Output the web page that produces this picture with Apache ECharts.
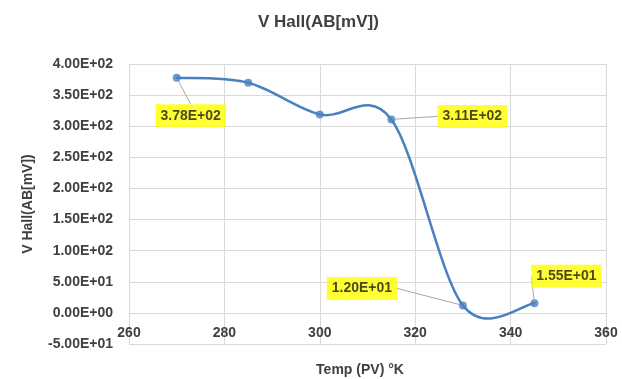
<!DOCTYPE html>
<html>
<head>
<meta charset="utf-8">
<script src="https://cdn.jsdelivr.net/npm/echarts@6/dist/echarts.min.js"></script>
<style>
html,body{margin:0;padding:0;background:#fff;}
#chart{width:622px;height:379px;}
</style>
</head>
<body>
<div id="chart"></div>
<script>
// Hall voltage across AB versus temperature
const temps = [270, 285, 300, 315, 330, 345];
const vHall = [378, 370, 319, 311, 12, 15.5];
// points whose value is called out in a box
const labeledIdx = [0, 3, 4, 5];
// shift of each call-out box away from its point
const labelShift = {0: [14, 38], 3: [81, -3], 4: [-101, -17], 5: [32, -27]};

function sci(v) {
  if (v === 0) return '0.00E+00';
  const e = Math.floor(Math.log10(Math.abs(v)));
  const m = v / Math.pow(10, e);
  const es = (e < 0 ? '-' : '+') + String(Math.abs(e)).padStart(2, '0');
  return m.toFixed(2) + 'E' + es;
}

const font = '"Liberation Sans", Arial, sans-serif';
const blue = '#4a7fc1';
const textCol = '#404040';

const points = temps.map((t, i) => [t, vHall[i]]);
const markerData = points.map((p, i) => {
  const item = {value: p};
  if (labeledIdx.includes(i)) item.label = {show: true};
  return item;
});

// Smooth curve: one cubic Bezier per segment, tangents from the neighbouring points
function renderSegment(params, api) {
  const i = params.dataIndex;
  const n = points.length;
  if (i >= n - 1) return null;
  const P = k => api.coord(points[Math.min(Math.max(k, 0), n - 1)]);
  const p0 = P(i - 1), p1 = P(i), p2 = P(i + 1), p3 = P(i + 2);
  return {
    type: 'bezierCurve',
    shape: {
      x1: p1[0], y1: p1[1],
      cpx1: p1[0] + (p2[0] - p0[0]) / 6, cpy1: p1[1] + (p2[1] - p0[1]) / 6,
      cpx2: p2[0] - (p3[0] - p1[0]) / 6, cpy2: p2[1] - (p3[1] - p1[1]) / 6,
      x2: p2[0], y2: p2[1]
    },
    style: {stroke: blue, fill: null, lineWidth: 2.5, lineCap: 'round'}
  };
}

const chart = echarts.init(document.getElementById('chart'));
chart.setOption({
  animation: false,
  title: {
    text: 'V Hall(AB[mV])',
    left: 253,
    top: 9,
    textStyle: {fontFamily: font, fontSize: 17, fontWeight: 'bold', color: textCol}
  },
  grid: {left: 129, right: 16, top: 64, bottom: 35, outerBoundsMode: 'none', containLabel: false},
  xAxis: {
    type: 'value',
    min: 260, max: 360, interval: 20,
    offset: -31,
    name: 'Temp (PV) °K',
    nameLocation: 'middle',
    nameGap: 50,
    nameTextStyle: {fontFamily: font, fontSize: 14, fontWeight: 'bold', color: textCol, padding: [0, 15, 0, 0]},
    axisLine: {show: false},
    axisTick: {show: false},
    axisLabel: {fontFamily: font, fontSize: 14, fontWeight: 'bold', color: textCol, margin: 13},
    splitLine: {show: true, lineStyle: {color: '#d9d9d9'}}
  },
  yAxis: {
    type: 'value',
    min: -50, max: 400, interval: 50,
    name: 'V Hall(AB[mV])',
    nameLocation: 'middle',
    nameGap: 94,
    nameTextStyle: {fontFamily: font, fontSize: 14, fontWeight: 'bold', color: textCol},
    axisLine: {show: false},
    axisTick: {show: false},
    axisLabel: {fontFamily: font, fontSize: 14, fontWeight: 'bold', color: textCol, margin: 16, formatter: sci},
    splitLine: {show: true, lineStyle: {color: '#d9d9d9'}}
  },
  series: [{
    type: 'custom',
    data: points,
    encode: {x: 0, y: 1},
    renderItem: renderSegment,
    z: 2,
    silent: true
  }, {
    type: 'scatter',
    data: markerData,
    symbol: 'circle',
    symbolSize: 8,
    z: 3,
    itemStyle: {color: blue},
    label: {
      show: false,
      position: 'inside',
      formatter: p => sci(p.value[1]),
      backgroundColor: '#ffff00',
      padding: [5, 5, 4, 5],
      fontFamily: font,
      fontSize: 14,
      fontWeight: 'bold',
      color: '#1a1a1a'
    },
    labelLine: {show: true, lineStyle: {color: '#a6a6a6', width: 1}},
    labelLayout: p => {
      const s = labelShift[p.dataIndex];
      return s ? {dx: s[0], dy: s[1]} : {};
    }
  }]
});
</script>
</body>
</html>
